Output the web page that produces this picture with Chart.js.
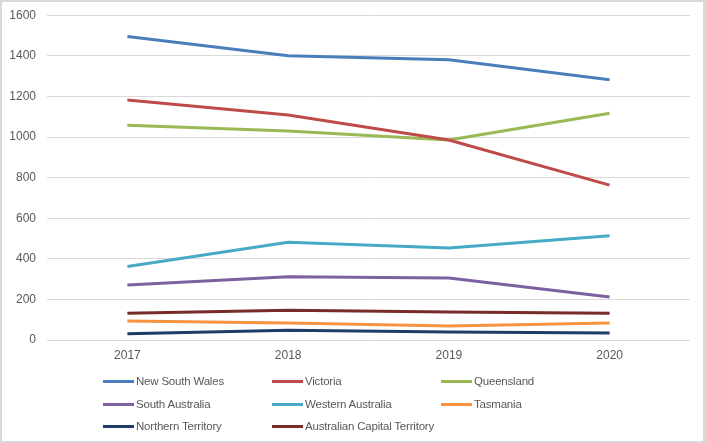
<!DOCTYPE html>
<html>
<head>
<meta charset="utf-8">
<script src="https://cdn.jsdelivr.net/npm/chart.js@4/dist/chart.umd.min.js"></script>
<style>
  body { margin: 0; background: #fff; }
  #wrap { position: relative; width: 701px; height: 439px; border: 2px solid #d9d9d9; background: #fff; overflow: hidden; }
  #box { position: absolute; left: -2px; top: -5px; width: 705px; height: 368px; }
  #legend { position: absolute; left: -2px; top: -2px; width: 705px; height: 443px; pointer-events: none;
            font-family: "Liberation Sans", sans-serif; font-size: 11.5px; color: #595959; }
  .item { position: absolute; display: flex; align-items: center; white-space: nowrap; letter-spacing: -0.2px; }
  .item span.sw { display: inline-block; width: 31px; height: 3px; margin-right: 2px; }
</style>
</head>
<body>
<div id="wrap">
  <div id="box"><canvas id="chart"></canvas></div>
  <div id="legend"></div>
</div>
<script>
// years on the x axis
const years = ['2017', '2018', '2019', '2020'];

// values per state / territory
const newSouthWales = [1495, 1400, 1380, 1282];
const victoria = [1182, 1108, 985, 763];
const queensland = [1058, 1029, 985, 1117];
const southAustralia = [271, 312, 305, 212];
const westernAustralia = [362, 481, 453, 514];
const tasmania = [94, 84, 69, 84];
const northernTerritory = [31, 48, 40, 34];
const actTerritory = [132, 147, 138, 132];

const yTicks = [0, 200, 400, 600, 800, 1000, 1200, 1400, 1600];

const series = [
    { label: 'New South Wales', data: newSouthWales, color: '#4a7ebb' },
    { label: 'Victoria', data: victoria, color: '#be4b48' },
    { label: 'Queensland', data: queensland, color: '#98b954' },
    { label: 'South Australia', data: southAustralia, color: '#7d60a0' },
    { label: 'Western Australia', data: westernAustralia, color: '#46aac5' },
    { label: 'Tasmania', data: tasmania, color: '#f69240' },
    { label: 'Northern Territory', data: northernTerritory, color: '#1f3d6b' },
    { label: 'Australian Capital Territory', data: actTerritory, color: '#772c2a' }
];

const ctx = document.getElementById('chart').getContext('2d');
const chart = new Chart(ctx, {
    type: 'line',
    data: {
        labels: years,
        datasets: series.map(s => ({
            label: s.label, data: s.data, borderColor: s.color, backgroundColor: s.color,
            borderWidth: 3, pointRadius: 0, tension: 0, fill: false
        }))
    },
    options: {
        responsive: true, maintainAspectRatio: false, animation: false,
        layout: { padding: { left: 0, right: 15, top: 4, bottom: 0 } },
        plugins: { legend: { display: false }, tooltip: { enabled: false } },
        scales: {
            x: {
                offset: true,
                grid: { display: false, drawTicks: false },
                border: { display: false },
                ticks: { color: '#595959', font: { family: 'Liberation Sans', size: 12 }, padding: 8 },
                afterFit: s => { s.height = 25; }
            },
            y: {
                min: 0, max: 1600,
                afterBuildTicks: s => { s.ticks = yTicks.map(v => ({ value: v })); },
                grid: { color: '#d9d9d9', lineWidth: 1, drawTicks: false },
                border: { display: false },
                ticks: { color: '#595959', font: { family: 'Liberation Sans', size: 12 }, padding: 11,
                         callback: v => String(v) },
                afterFit: s => { s.width = 47; }
            }
        }
    }
});

// legend laid out in three columns like the original
const legend = document.getElementById('legend');
const colX = [103, 272, 441];
const rowY = [383, 406, 428];
series.forEach((s, i) => {
    const el = document.createElement('div');
    el.className = 'item';
    el.style.left = colX[i % 3] + 'px';
    el.style.top = (rowY[Math.floor(i / 3)] - 8) + 'px';
    el.innerHTML = `<span class="sw" style="background:${s.color}"></span>${s.label}`;
    legend.appendChild(el);
});
</script>
</body>
</html>
